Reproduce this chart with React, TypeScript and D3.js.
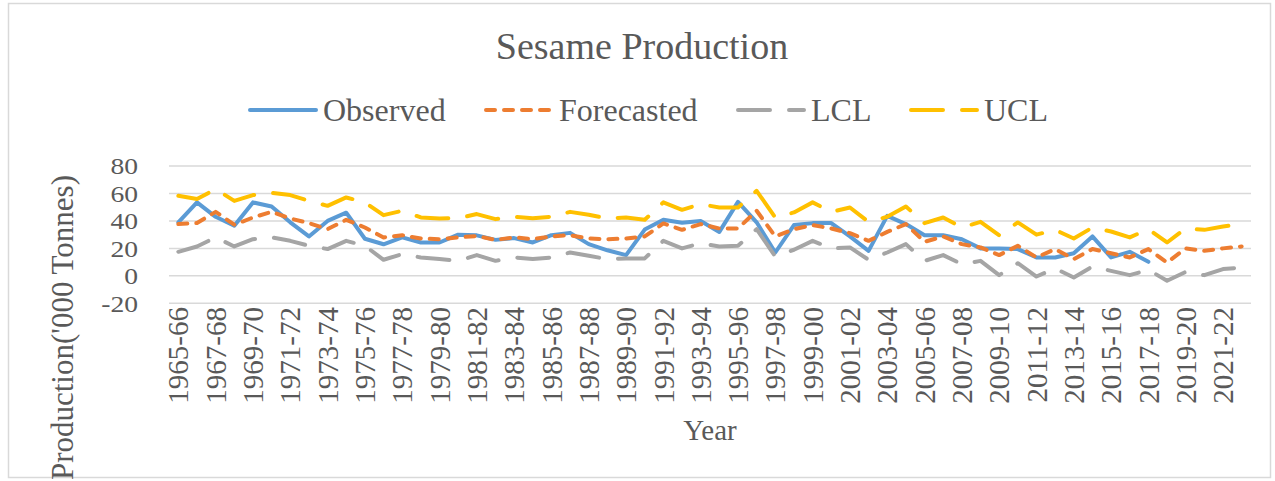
// Sesame production: observed series with forecast and lower / upper control limits
import React from "react"
import * as d3 from "d3"

const categories = [
  "1965-66", "1966-67", "1967-68", "1968-69", "1969-70", "1970-71", "1971-72", "1972-73",
  "1973-74", "1974-75", "1975-76", "1976-77", "1977-78", "1978-79", "1979-80", "1980-81",
  "1981-82", "1982-83", "1983-84", "1984-85", "1985-86", "1986-87", "1987-88", "1988-89",
  "1989-90", "1990-91", "1991-92", "1992-93", "1993-94", "1994-95", "1995-96", "1996-97",
  "1997-98", "1998-99", "1999-00", "2000-01", "2001-02", "2002-03", "2003-04", "2004-05",
  "2005-06", "2006-07", "2007-08", "2008-09", "2009-10", "2010-11", "2011-12", "2012-13",
  "2013-14", "2014-15", "2015-16", "2016-17", "2017-18", "2018-19", "2019-20", "2020-21",
  "2021-22", "2022-23",
]

const observed = [
  39, 53.5, 43, 36.5, 53.5, 50.5, 39, 28.7, 40, 46, 27, 23, 28, 24.3, 24.3, 30,
  29.5, 26.2, 27.5, 24.3, 29.6, 31.3, 23.1, 18.6, 15.1, 33.7, 40.8, 38.6, 40, 32, 53.9, 39,
  17, 37, 38.4, 38.4, 28.7, 18.2, 43.7, 37.7, 29.6, 29.6, 26.7, 20, 20, 19.5, 13.4, 13.4,
  16.5, 28.7, 13.4, 17.5, 10.2,
]

const forecasted = [
  37.7, 38.5, 46.6, 37.2, 42.5, 46.6, 41.8, 38.4, 34, 40.8, 35.2, 28, 29.6, 27.2, 26.7, 28,
  29, 26.2, 28, 26.7, 28.7, 29.6, 27.2, 26.7, 27.2, 28.7, 38.2, 33.5, 37.7, 34.5, 34.5, 47.4,
  28.7, 34, 37, 34.5, 31.1, 25.5, 32, 37.7, 24.8, 28.7, 23.1, 20.7, 15.1, 21.9, 13.4, 19.5,
  12.2, 19.5, 16.5, 13.4, 19.5, 9.7, 20, 18.2, 20, 21.4,
]

const lcl = [
  17.5, 21.4, 28, 21.4, 26.7, 28, 25.5, 21.9, 19.5, 25.5, 21.9, 11.7, 15.8, 13.4, 12.2, 10.9,
  15.1, 10.9, 13.4, 12.2, 13.4, 17, 14.6, 12.2, 12.7, 12.7, 25.5, 20, 23.8, 21.4, 21.9, 34,
  14.1, 19, 25.5, 20, 20.7, 11.7, 17, 23.1, 10.9, 15.1, 8.5, 10.9, 0.5, 9.2, -0.5, 5.4,
  -1.2, 6.8, 3.6, 0.5, 4.4, -3.6, 2.9, 0.5, 4.9, 6.1,
]

const ucl = [
  58.3, 55.9, 63.2, 54.6, 58.8, 60.5, 58.8, 54.6, 51, 57.1, 53.5, 44.2, 47.4, 42.5, 41.8, 42,
  45, 41.3, 43, 42, 43, 46.6, 44.5, 41.8, 42.5, 40.8, 53.5, 48.1, 52.2, 49.8, 49.8, 61.9,
  42.5, 46.2, 53.5, 46.6, 49.8, 39.3, 43, 50.5, 38.4, 42.5, 35.2, 39.3, 29.6, 38.9, 30, 33.5,
  27.2, 35.2, 32.3, 28, 34, 24.3, 34.5, 33.5, 36, 37.7,
]

const yTicks = [-20, 0, 20, 40, 60, 80]

const seriesNames = ["Observed", "Forecasted", "LCL", "UCL"]
const seriesValues = [observed, forecasted, lcl, ucl]
const seriesColors = ["#5B9BD5", "#ED7D31", "#A5A5A5", "#FFC000"]
const seriesDash = [null, "9,9", "32,19", "32,19"]

const W = 1275
const H = 481
const plot = { left: 169, right: 1251, top: 166, bottom: 303.3 }
const legendStart = [248, 484, 736, 909]
const font = '"Liberation Serif", "Times New Roman", Times, "DejaVu Serif", serif'
const textColor = "#595959"

export default function App() {
  const x = d3.scaleBand<string>().domain(categories).range([plot.left, plot.right]).padding(0)
  const y = d3.scaleLinear().domain([-20, 80]).range([plot.bottom, plot.top])
  const cx = (i: number) => (x(categories[i]) ?? 0) + x.bandwidth() / 2

  const line = d3
    .line<number>()
    .x((_, i) => cx(i))
    .y(d => y(d))

  const txt = { fontFamily: font, fill: textColor }

  return (
    <svg
      width={W}
      height={H}
      style={{ position: "absolute", left: 0, top: 0, background: "#fff", fontFamily: font }}
    >
      <rect x={8.5} y={3.5} width={1262} height={474} fill="#fff" stroke="#d9d9d9" strokeWidth={1.5} />

      <text x={642} y={59} textAnchor="middle" fontSize={38} style={txt}>
        Sesame Production
      </text>

      {/* legend */}
      {seriesNames.map((name, i) => (
        <g key={name}>
          <line
            x1={legendStart[i] + 2}
            x2={legendStart[i] + 68}
            y1={110}
            y2={110}
            stroke={seriesColors[i]}
            strokeWidth={4}
            strokeLinecap="round"
            strokeDasharray={seriesDash[i] ?? undefined}
          />
          <text x={legendStart[i] + 75} y={121} fontSize={32} style={txt}>
            {name}
          </text>
        </g>
      ))}

      {/* gridlines */}
      {yTicks.map(t => (
        <line key={t} x1={plot.left} x2={plot.right} y1={y(t)} y2={y(t)} stroke="#d9d9d9" strokeWidth={1.5} />
      ))}

      {/* y tick labels */}
      {yTicks.map(t => (
        <text
          key={t}
          transform={`translate(138,${y(t)}) scale(1.15,1)`}
          dy="0.35em"
          textAnchor="end"
          fontSize={24}
          style={txt}
        >
          {t}
        </text>
      ))}

      {/* x tick labels, every other year */}
      {categories.map((c, i) =>
        i % 2 === 0 ? (
          <text
            key={c}
            transform={`translate(${cx(i)},307) rotate(-90)`}
            textAnchor="end"
            dy="0.35em"
            fontSize={29}
            style={txt}
          >
            {c}
          </text>
        ) : null
      )}

      {/* series */}
      {seriesValues.map((vals, i) => (
        <path
          key={seriesNames[i]}
          d={line(vals) ?? ""}
          fill="none"
          stroke={seriesColors[i]}
          strokeWidth={4}
          strokeLinecap="round"
          strokeLinejoin="round"
          strokeDasharray={seriesDash[i] ?? undefined}
        />
      ))}

      <text x={710} y={440} textAnchor="middle" fontSize={29} style={txt}>
        Year
      </text>
      <text transform="translate(73,175) rotate(-90)" textAnchor="end" fontSize={31} style={txt}>
        Production('000 Tonnes)
      </text>
    </svg>
  )
}
